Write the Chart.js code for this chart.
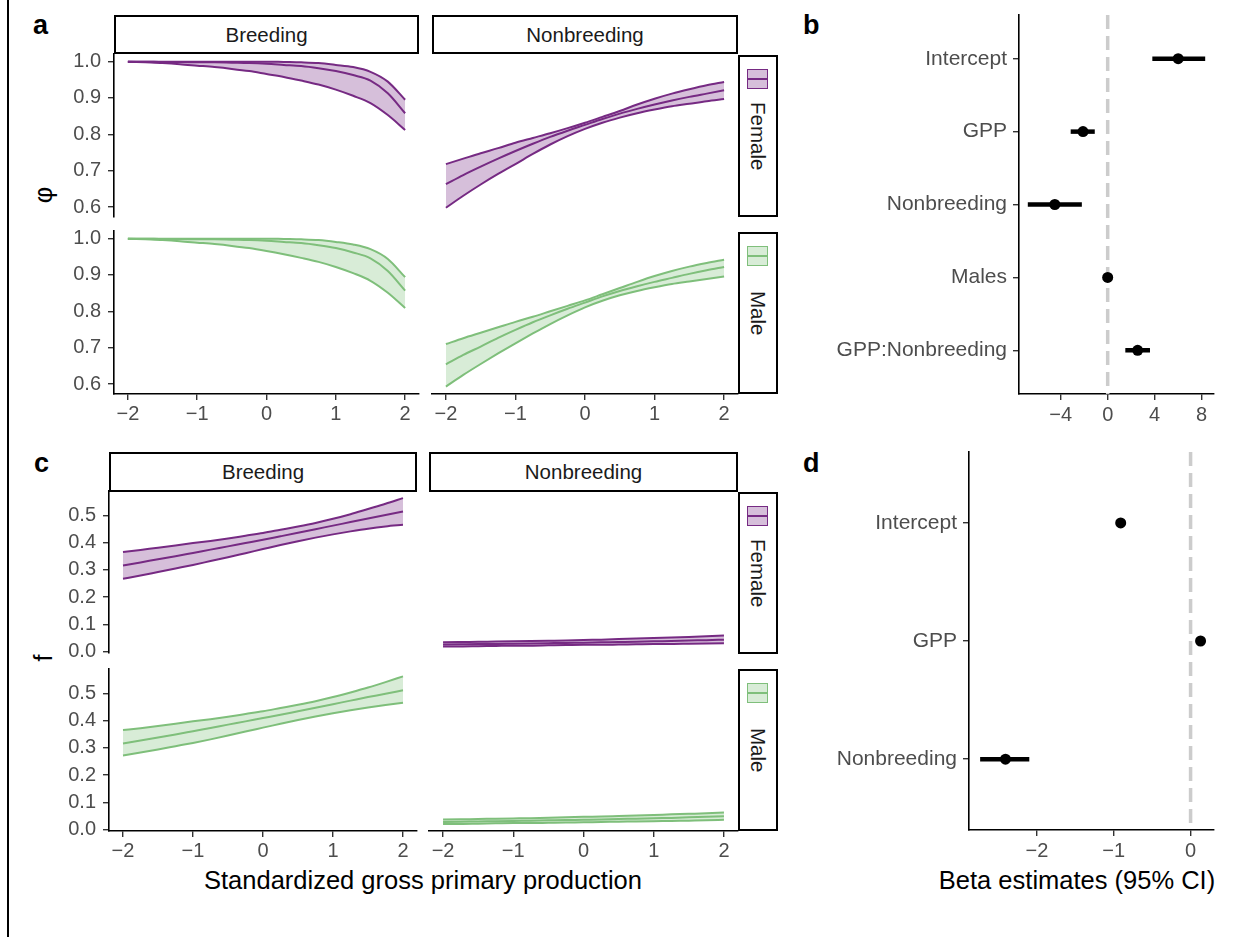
<!DOCTYPE html>
<html>
<head>
<meta charset="utf-8">
<script src="https://cdn.jsdelivr.net/npm/chart.js@4.4.0/dist/chart.umd.min.js"></script>
<style>
body { margin: 0; background: #fff; width: 1250px; height: 937px; position: relative; overflow: hidden; font-family: "Liberation Sans", Arial, sans-serif; }
.strip { position: absolute; box-sizing: border-box; border: 2px solid #000; background: #fff; color: #1a1a1a; font-size: 20.5px; display: flex; align-items: center; justify-content: center; }
.vstrip span { writing-mode: vertical-rl; }
.key { position: absolute; left: 7px; top: 12px; width: 21px; height: 20px; box-sizing: border-box; }
.key i { position: absolute; left: 0; right: 0; top: 8px; height: 1.5px; }
.lbl { position: absolute; font-size: 27px; font-weight: bold; line-height: 27px; color: #000; }
.title { position: absolute; font-size: 25.5px; color: #000; white-space: nowrap; transform: translate(-50%, -50%); }
</style>
</head>
<body>
<div style="position:absolute;left:7px;top:0;width:2px;height:937px;background:#000"></div>

<div class="lbl" style="left:33px;top:12px">a</div>
<div class="lbl" style="left:803px;top:12px">b</div>
<div class="lbl" style="left:34px;top:450px">c</div>
<div class="lbl" style="left:803px;top:450px">d</div>

<div class="strip" style="left:114px;top:15px;width:305px;height:39px">Breeding</div>
<div class="strip" style="left:432px;top:15px;width:306px;height:39px">Nonbreeding</div>
<div class="strip" style="left:109px;top:452px;width:308px;height:40px">Breeding</div>
<div class="strip" style="left:429px;top:452px;width:309px;height:40px">Nonbreeding</div>

<div class="strip vstrip" style="left:738px;top:55px;width:40px;height:162px"><div class="key" style="border:1.5px solid #762a83;background:rgba(118,42,131,0.3)"><i style="background:#762a83"></i></div><span>Female</span></div>
<div class="strip vstrip" style="left:738px;top:232px;width:40px;height:162px"><div class="key" style="border:1.5px solid #7fbf7b;background:rgba(127,191,123,0.3)"><i style="background:#7fbf7b"></i></div><span>Male</span></div>
<div class="strip vstrip" style="left:738px;top:492px;width:40px;height:162px"><div class="key" style="border:1.5px solid #762a83;background:rgba(118,42,131,0.3)"><i style="background:#762a83"></i></div><span>Female</span></div>
<div class="strip vstrip" style="left:738px;top:669px;width:40px;height:162px"><div class="key" style="border:1.5px solid #7fbf7b;background:rgba(127,191,123,0.3)"><i style="background:#7fbf7b"></i></div><span>Male</span></div>

<div class="title" style="left:43px;top:195px;transform:translate(-50%,-50%) rotate(-90deg)">φ</div>
<div class="title" style="left:43px;top:658px;transform:translate(-50%,-50%) rotate(-90deg)">f</div>
<div class="title" style="left:423px;top:880px">Standardized gross primary production</div>
<div class="title" style="left:1077px;top:880px">Beta estimates (95% CI)</div>

<script>
// x positions (standardized GPP) and ticks
const gpp = [-2, -1.75, -1.5, -1.25, -1, -0.75, -0.5, -0.25, 0, 0.25, 0.5, 0.75, 1, 1.25, 1.5, 1.75, 2];
const gppTicks = [-2, -1, 0, 1, 2];
const phiTicks = [0.6, 0.7, 0.8, 0.9, 1.0];
const fTicks = [0, 0.1, 0.2, 0.3, 0.4, 0.5];

// panel a: survival (phi)
const phiBreedFemMean  = [1.000, 1.000, 0.999, 0.999, 0.998, 0.998, 0.997, 0.996, 0.994, 0.991, 0.988, 0.982, 0.974, 0.963, 0.948, 0.913, 0.858];
const phiBreedFemUpper = [1.000, 1.000, 1.000, 1.000, 1.000, 1.000, 1.000, 1.000, 1.000, 0.999, 0.998, 0.996, 0.991, 0.985, 0.972, 0.945, 0.895];
const phiBreedFemLower = [1.000, 0.998, 0.996, 0.993, 0.989, 0.985, 0.980, 0.974, 0.966, 0.958, 0.948, 0.937, 0.923, 0.906, 0.886, 0.853, 0.812];
const phiNonFemMean  = [0.663, 0.688, 0.711, 0.733, 0.754, 0.774, 0.793, 0.810, 0.826, 0.842, 0.857, 0.870, 0.882, 0.893, 0.903, 0.912, 0.921];
const phiNonFemUpper = [0.718, 0.733, 0.748, 0.762, 0.777, 0.790, 0.803, 0.817, 0.832, 0.848, 0.864, 0.882, 0.898, 0.912, 0.924, 0.935, 0.944];
const phiNonFemLower = [0.598, 0.631, 0.662, 0.691, 0.718, 0.746, 0.772, 0.795, 0.815, 0.832, 0.846, 0.858, 0.868, 0.877, 0.884, 0.891, 0.897];
const phiBreedMalMean  = [1.000, 1.000, 0.999, 0.999, 0.998, 0.998, 0.997, 0.996, 0.994, 0.991, 0.988, 0.982, 0.974, 0.962, 0.946, 0.911, 0.857];
const phiBreedMalUpper = [1.000, 1.000, 1.000, 1.000, 1.000, 1.000, 1.000, 1.000, 1.000, 0.999, 0.998, 0.996, 0.991, 0.984, 0.971, 0.944, 0.894];
const phiBreedMalLower = [1.000, 0.998, 0.996, 0.993, 0.989, 0.985, 0.980, 0.974, 0.966, 0.957, 0.947, 0.936, 0.922, 0.905, 0.884, 0.851, 0.809];
const phiNonMalMean  = [0.654, 0.680, 0.703, 0.727, 0.749, 0.770, 0.789, 0.807, 0.824, 0.841, 0.856, 0.869, 0.881, 0.892, 0.903, 0.913, 0.922];
const phiNonMalUpper = [0.710, 0.726, 0.741, 0.756, 0.771, 0.785, 0.800, 0.815, 0.830, 0.847, 0.864, 0.881, 0.897, 0.911, 0.923, 0.933, 0.942];
const phiNonMalLower = [0.593, 0.625, 0.655, 0.684, 0.712, 0.739, 0.765, 0.789, 0.811, 0.829, 0.844, 0.856, 0.866, 0.875, 0.882, 0.889, 0.896];

// panel c: fecundity (f)
const fBreedFemMean  = [0.316, 0.327, 0.339, 0.350, 0.362, 0.374, 0.386, 0.398, 0.410, 0.423, 0.436, 0.449, 0.462, 0.475, 0.488, 0.501, 0.514];
const fBreedFemUpper = [0.365, 0.373, 0.381, 0.389, 0.398, 0.406, 0.415, 0.425, 0.435, 0.447, 0.459, 0.472, 0.487, 0.504, 0.523, 0.542, 0.563];
const fBreedFemLower = [0.267, 0.279, 0.292, 0.305, 0.318, 0.332, 0.346, 0.361, 0.376, 0.391, 0.405, 0.418, 0.430, 0.441, 0.451, 0.459, 0.465];
const fNonFemMean  = [0.026, 0.027, 0.028, 0.028, 0.029, 0.030, 0.031, 0.032, 0.033, 0.034, 0.035, 0.036, 0.038, 0.039, 0.041, 0.042, 0.044];
const fNonFemUpper = [0.034, 0.035, 0.036, 0.037, 0.038, 0.039, 0.040, 0.041, 0.043, 0.044, 0.046, 0.048, 0.050, 0.052, 0.054, 0.056, 0.059];
const fNonFemLower = [0.019, 0.019, 0.020, 0.021, 0.022, 0.022, 0.023, 0.024, 0.025, 0.025, 0.026, 0.027, 0.028, 0.028, 0.029, 0.030, 0.031];
const fBreedMalMean  = [0.316, 0.327, 0.338, 0.349, 0.361, 0.373, 0.385, 0.397, 0.409, 0.421, 0.434, 0.447, 0.460, 0.473, 0.486, 0.498, 0.511];
const fBreedMalUpper = [0.365, 0.372, 0.380, 0.388, 0.397, 0.405, 0.414, 0.424, 0.434, 0.446, 0.458, 0.471, 0.486, 0.503, 0.521, 0.541, 0.562];
const fBreedMalLower = [0.272, 0.283, 0.294, 0.306, 0.318, 0.331, 0.345, 0.360, 0.374, 0.388, 0.402, 0.415, 0.427, 0.438, 0.448, 0.457, 0.465];
const fNonMalMean  = [0.028, 0.029, 0.030, 0.031, 0.032, 0.033, 0.034, 0.035, 0.036, 0.037, 0.039, 0.040, 0.042, 0.043, 0.045, 0.047, 0.049];
const fNonMalUpper = [0.037, 0.038, 0.039, 0.040, 0.041, 0.042, 0.044, 0.045, 0.047, 0.048, 0.050, 0.052, 0.054, 0.056, 0.058, 0.060, 0.063];
const fNonMalLower = [0.021, 0.021, 0.022, 0.023, 0.024, 0.024, 0.025, 0.026, 0.027, 0.028, 0.029, 0.030, 0.031, 0.032, 0.033, 0.034, 0.036];

// panel b: survival betas
const bTerms = ['Intercept', 'GPP', 'Nonbreeding', 'Males', 'GPP:Nonbreeding'];
const bMean = [6.0, -2.1, -4.5, 0.0, 2.55];
const bLow  = [3.8, -3.15, -6.8, -0.1, 1.5];
const bHigh = [8.3, -1.1, -2.2, 0.1, 3.6];
const bTicks = [-4, 0, 4, 8];

// panel d: fecundity betas
const dTerms = ['Intercept', 'GPP', 'Nonbreeding'];
const dMean = [-0.91, 0.13, -2.41];
const dLow  = [-0.97, 0.11, -2.74];
const dHigh = [-0.85, 0.15, -2.10];
const dTicks = [-2, -1, 0];

const FONT = '"Liberation Sans", Arial, sans-serif';
const PURPLE = '#762a83', PURPLE_FILL = 'rgba(118,42,131,0.3)';
const GREEN = '#7fbf7b', GREEN_FILL = 'rgba(127,191,123,0.3)';

const minus = v => String(v).replace('-', '\u2212');

function zeroPad(s) { s.paddingLeft = 0; s.paddingRight = 0; s.paddingTop = 0; s.paddingBottom = 0; }

function axis(tickVals, fmt, size, pad) {
  return {
    type: 'linear',
    border: { display: true, color: '#000', width: 1.6 },
    grid: { display: true, drawOnChartArea: false, drawTicks: true, tickLength: 6, color: '#333', lineWidth: 1.4 },
    ticks: { color: '#4d4d4d', font: { family: FONT, size: size }, padding: pad, autoSkip: false, maxRotation: 0, callback: fmt },
    afterBuildTicks: s => { s.ticks = tickVals.map(v => ({ value: v })); }
  };
}

function makeCanvas(box, padL, padT, extraW, extraH) {
  const c = document.createElement('canvas');
  const w = box.w + extraW, h = box.h + extraH;
  c.width = w; c.height = h;
  c.style.cssText = 'position:absolute;left:' + (box.x - padL) + 'px;top:' + (box.y - padT) + 'px;width:' + w + 'px;height:' + h + 'px';
  document.body.appendChild(c);
  return c;
}

function facet(box, mean, upper, lower, line, fill, yTicks, yMin, yMax, showY, showX) {
  const YW = 70, XH = 40, PL = 8, PR = 12, PT = 12, PB = 12;
  const yw = showY ? YW : 0, xh = showX ? XH : 0;
  const c = makeCanvas(box, PL + yw, PT, PL + PR + yw, PT + PB + xh);
  const pts = arr => gpp.map((x, i) => ({ x: x, y: arr[i] }));
  const common = { borderColor: line, borderWidth: 2, pointRadius: 0, cubicInterpolationMode: 'monotone' };

  const xAx = axis(gppTicks, v => minus(v), 20, 2);
  xAx.min = -2.2; xAx.max = 2.2; xAx.display = showX;
  xAx.afterFit = s => { s.height = xh; zeroPad(s); };
  const yAx = axis(yTicks, v => v.toFixed(1), 20, 7);
  yAx.min = yMin; yAx.max = yMax; yAx.display = showY;
  yAx.afterFit = s => { s.width = yw; zeroPad(s); };

  new Chart(c, {
    type: 'line',
    data: { datasets: [
      Object.assign({ data: pts(mean), fill: false }, common),
      Object.assign({ data: pts(upper), fill: '+1', backgroundColor: fill }, common),
      Object.assign({ data: pts(lower), fill: false }, common)
    ] },
    options: {
      responsive: false, animation: false, devicePixelRatio: 1,
      layout: { padding: { left: PL, right: PR, top: PT, bottom: PB } },
      plugins: { legend: { display: false }, tooltip: { enabled: false } },
      scales: { x: xAx, y: yAx }
    }
  });
}

function coef(box, terms, mean, lo, hi, xTicks, xMin, xMax, YW) {
  const XH = 40, PL = 6, PR = 14, PT = 8, PB = 8;
  const c = makeCanvas(box, PL + YW, PT, PL + PR + YW, PT + PB + XH);
  const n = terms.length;
  const sets = [];
  sets.push({ data: mean.map((m, i) => ({ x: m, y: i })), showLine: false, pointRadius: 5.5,
              pointBackgroundColor: '#000', pointBorderWidth: 0, order: -1 });
  terms.forEach((t, i) => {
    sets.push({ data: [{ x: lo[i], y: i }, { x: hi[i], y: i }], borderColor: '#000', borderWidth: 4.5, pointRadius: 0, order: 0 });
  });
  sets.push({ data: [{ x: 0, y: -0.6 }, { x: 0, y: n - 0.4 }], borderColor: '#cccccc', borderWidth: 3.5,
              borderDash: [14, 7], pointRadius: 0, order: 5 });

  const xAx = axis(xTicks, v => minus(v), 20, 3);
  xAx.min = xMin; xAx.max = xMax;
  xAx.afterFit = s => { s.height = XH; zeroPad(s); };
  const yAx = axis(terms.map((t, i) => i), v => terms[v], 21, 6);
  yAx.min = -0.6; yAx.max = n - 0.4; yAx.reverse = true;
  yAx.afterFit = s => { s.width = YW; zeroPad(s); };

  new Chart(c, {
    type: 'line',
    data: { datasets: sets },
    options: {
      responsive: false, animation: false, devicePixelRatio: 1,
      layout: { padding: { left: PL, right: PR, top: PT, bottom: PB } },
      plugins: { legend: { display: false }, tooltip: { enabled: false } },
      scales: { x: xAx, y: yAx }
    }
  });
}

// panel a
facet({ x: 114, y: 54, w: 305, h: 163 }, phiBreedFemMean, phiBreedFemUpper, phiBreedFemLower, PURPLE, PURPLE_FILL, phiTicks, 0.5725, 1.021, true, false);
facet({ x: 432, y: 54, w: 306, h: 163 }, phiNonFemMean, phiNonFemUpper, phiNonFemLower, PURPLE, PURPLE_FILL, phiTicks, 0.5725, 1.021, false, false);
facet({ x: 114, y: 231, w: 305, h: 163 }, phiBreedMalMean, phiBreedMalUpper, phiBreedMalLower, GREEN, GREEN_FILL, phiTicks, 0.5725, 1.021, true, true);
facet({ x: 432, y: 231, w: 306, h: 163 }, phiNonMalMean, phiNonMalUpper, phiNonMalLower, GREEN, GREEN_FILL, phiTicks, 0.5725, 1.021, false, true);

// panel c
facet({ x: 109, y: 491, w: 308, h: 162 }, fBreedFemMean, fBreedFemUpper, fBreedFemLower, PURPLE, PURPLE_FILL, fTicks, -0.005, 0.589, true, false);
facet({ x: 429, y: 491, w: 309, h: 162 }, fNonFemMean, fNonFemUpper, fNonFemLower, PURPLE, PURPLE_FILL, fTicks, -0.005, 0.589, false, false);
facet({ x: 109, y: 669, w: 308, h: 162 }, fBreedMalMean, fBreedMalUpper, fBreedMalLower, GREEN, GREEN_FILL, fTicks, -0.005, 0.589, true, true);
facet({ x: 429, y: 669, w: 309, h: 162 }, fNonMalMean, fNonMalUpper, fNonMalLower, GREEN, GREEN_FILL, fTicks, -0.005, 0.589, false, true);

// panels b and d
coef({ x: 1019, y: 15, w: 195, h: 379 }, bTerms, bMean, bLow, bHigh, bTicks, -7.55, 9.05, 200);
coef({ x: 969, y: 452, w: 245, h: 378 }, dTerms, dMean, dLow, dHigh, dTicks, -2.885, 0.305, 150);
</script>
</body>
</html>
